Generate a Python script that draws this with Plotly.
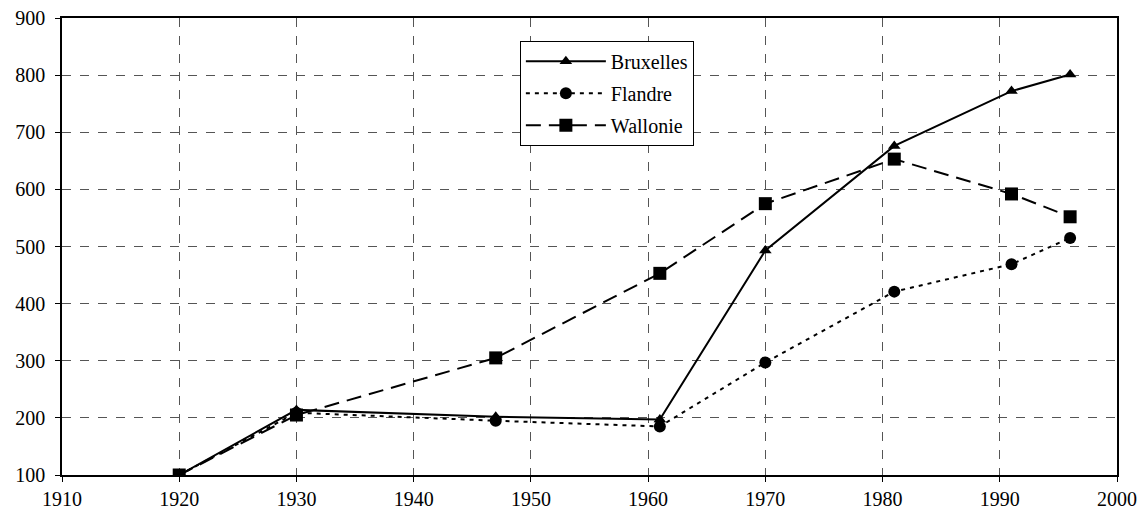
import plotly.graph_objects as go

# ── data ─────────────────────────────────────────────────────
years = [1920, 1930, 1947, 1961, 1970, 1981, 1991, 1996]
bruxelles = [100, 214, 202, 197, 493, 676, 772, 801]
flandre = [100, 209, 195, 185, 297, 421, 469, 515]
wallonie = [100, 205, 305, 453, 575, 653, 592, 552]

_INK = "black"
_GRID = "#555555"
_FONT = "Liberation Serif"

series = [
    ("Bruxelles", bruxelles, "solid", "triangle-up", 11),
    ("Flandre", flandre, "4px,5px", "circle", 12),
    ("Wallonie", wallonie, "15px,8px", "square", 13),
]

fig = go.Figure()
for name, vals, dash, symbol, size in series:
    fig.add_trace(go.Scatter(
        x=years, y=vals, name=name, mode="lines+markers", legendgroup=name,
        line=dict(color=_INK, width=2, dash=dash),
        marker=dict(symbol=symbol, size=size, color=_INK),
    ))

axis_common = dict(
    showline=True, linecolor=_INK, linewidth=1.5, mirror=True,
    showgrid=True, gridcolor=_GRID, gridwidth=1, griddash="dash",
    ticks="outside", ticklen=5, tickcolor=_INK,
    tickfont=dict(family=_FONT, size=20, color=_INK),
    zeroline=False, automargin=False, ticklabeloverflow="allow",
)

fig.update_layout(
    width=1142, height=519,
    paper_bgcolor="white", plot_bgcolor="white",
    margin=dict(l=62, r=25, t=18, b=44),
    font=dict(family=_FONT, size=20, color=_INK),
    xaxis=dict(range=[1910, 2000], dtick=10, tick0=1910, **axis_common),
    yaxis=dict(range=[100, 900], dtick=100, ticklabelstandoff=6, **axis_common),
    legend=dict(
        x=0.434, y=0.95, xanchor="left", yanchor="top",
        bordercolor=_INK, borderwidth=1, bgcolor="white",
        font=dict(family=_FONT, size=20, color=_INK),
        itemwidth=80, tracegroupgap=3,
    ),
    showlegend=True,
)

# drop the default 8px body margin so the figure fills the window
fig.write_html("out.html", config={"displayModeBar": False},
               post_script="document.body.style.margin = '0';")
